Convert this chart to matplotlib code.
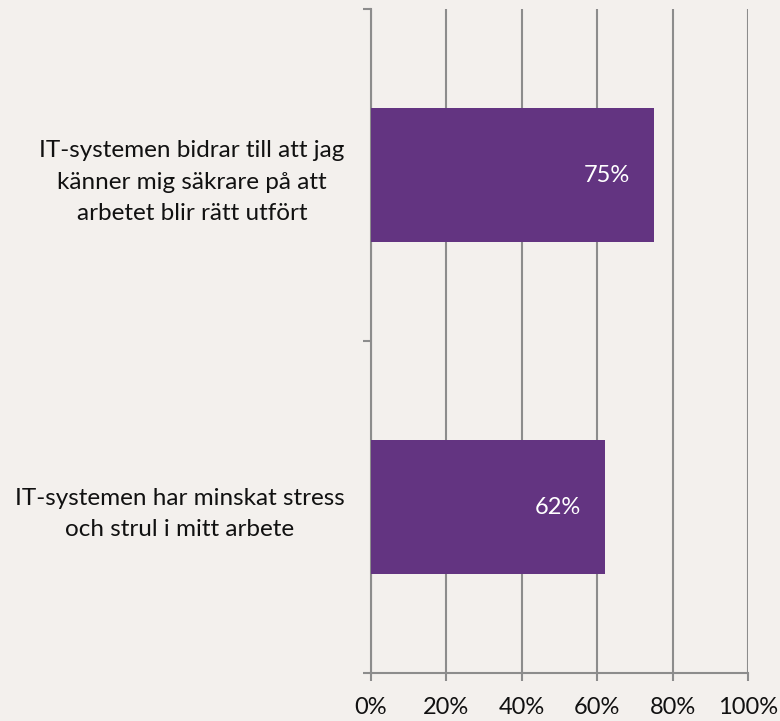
import matplotlib.pyplot as plt
from matplotlib.ticker import FixedLocator

# data
categories = ["IT-systemen har minskat stress\noch strul i mitt arbete",
              "IT-systemen bidrar till att jag\nkänner mig säkrare på att\narbetet blir rätt utfört"]
values = [62, 75]
x_ticks = [0, 20, 40, 60, 80, 100]
x_labels = ["0%", "20%", "40%", "60%", "80%", "100%"]

bg = "#F3F0ED"
bar_color = "#633481"
grid_color = "#8C8C8C"

plt.rcParams['font.family'] = ['Lato', 'DejaVu Sans']

fig = plt.figure(figsize=(7.8, 7.21), dpi=100, facecolor=bg)
ax = fig.add_axes([371 / 780, 48 / 721, 377 / 780, 664 / 721])
ax.set_facecolor(bg)

ypos = list(range(len(values)))
ax.barh(ypos, values, height=0.404, color=bar_color, zorder=3)

for y, v in zip(ypos, values):
    ax.annotate(f"{v}%", xy=(v, y), xytext=(-17, 0), textcoords="offset points",
                ha="right", va="center", color="white", fontsize=17, zorder=4)

ax.set_xlim(0, 100)
ax.set_ylim(-0.5, len(values) - 0.5)

ax.set_xticks(x_ticks)
ax.set_xticklabels(x_labels, fontsize=17, color="#111111")
ax.tick_params(axis="x", length=6, width=1.5, color=grid_color, pad=11)

ax.yaxis.set_major_locator(FixedLocator([-0.5, 0.5, 1.5]))
ax.yaxis.set_major_formatter(plt.NullFormatter())
ax.yaxis.set_minor_locator(FixedLocator(ypos))
ax.set_yticklabels(categories, minor=True, fontsize=17.5, color="#111111",
                   multialignment="center", linespacing=1.6)
ax.tick_params(axis="y", which="major", length=6, width=1.5, color=grid_color)
ax.tick_params(axis="y", which="minor", length=0, pad=19)

ax.grid(axis="x", color=grid_color, linewidth=1.5, zorder=0)
for s in ["top", "right"]:
    ax.spines[s].set_visible(False)
for s in ["left", "bottom"]:
    ax.spines[s].set_color(grid_color)
    ax.spines[s].set_linewidth(1.5)

fig.savefig("out.png", dpi=100, facecolor=bg)
